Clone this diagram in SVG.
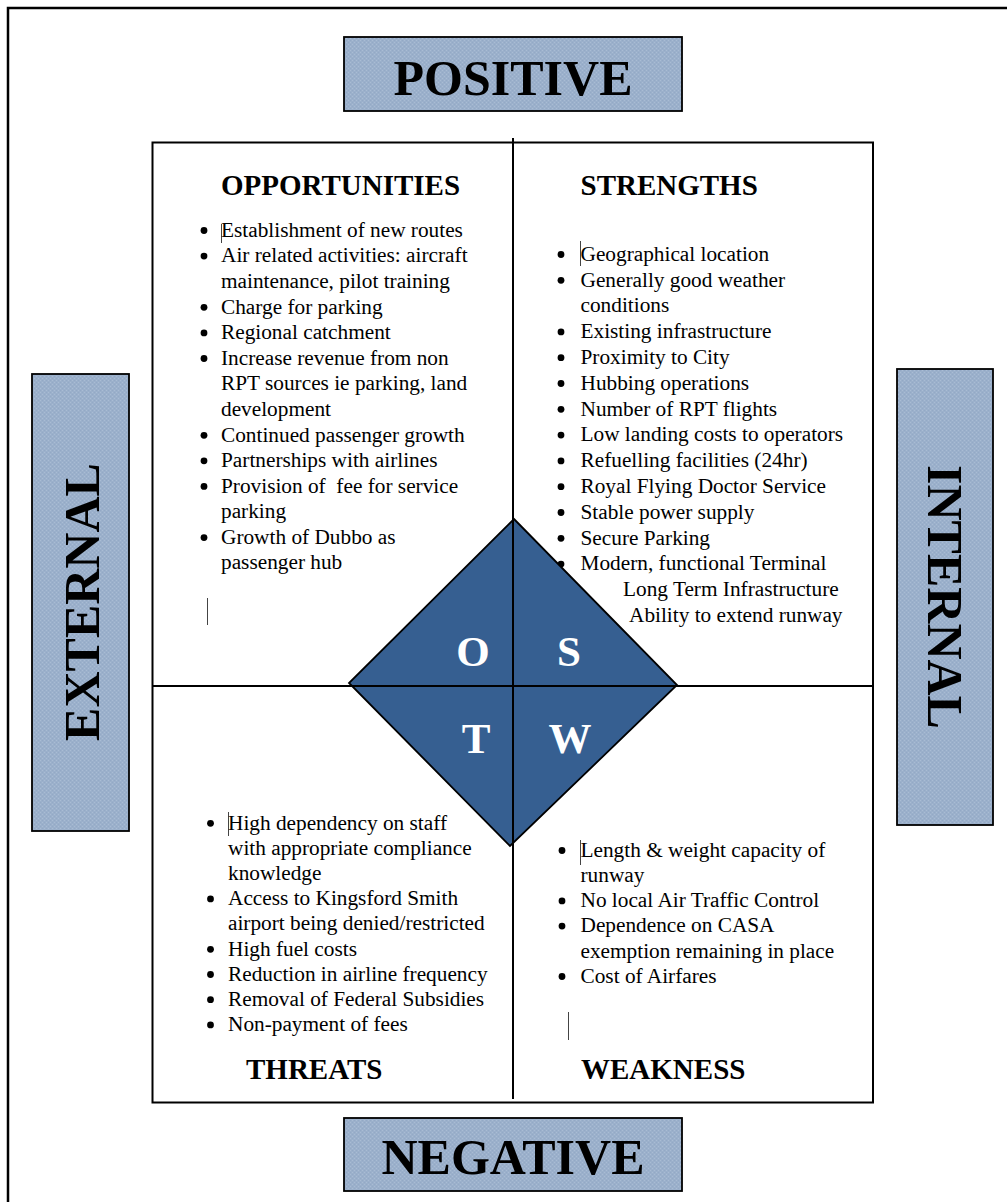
<svg xmlns="http://www.w3.org/2000/svg" width="1007" height="1202" viewBox="0 0 1007 1202">
  <defs>
    <!-- fine woven texture used by the four side labels -->
    <pattern id="weave" width="4" height="4" patternUnits="userSpaceOnUse">
      <rect width="4" height="4" fill="#9BB0CB"/>
      <rect x="0" y="0" width="1" height="1" fill="#A9BCD4"/>
      <rect x="2" y="2" width="1" height="1" fill="#A9BCD4"/>
      <rect x="2" y="0" width="1" height="1" fill="#93A9C6"/>
      <rect x="0" y="2" width="1" height="1" fill="#93A9C6"/>
    </pattern>
  </defs>
  <style>
    .frame { fill: none; stroke: #000; stroke-width: 2.5; }
    .quad { fill: #fff; stroke: #000; stroke-width: 2; }
    .label-box { fill: url(#weave); stroke: #000; stroke-width: 1.8; }
    .label { font-family: "Liberation Serif", "Times New Roman", serif; font-weight: bold; font-size: 50px; fill: #000; }
    .head { font-family: "Liberation Serif", "Times New Roman", serif; font-weight: bold; font-size: 29px; fill: #000; }
    .item { font-family: "Liberation Serif", "Times New Roman", serif; font-size: 21.3px; fill: #000; }
    .bullet { fill: #000; }
    .caret { stroke: #444; stroke-width: 1; fill: none; }
    .axis { stroke: #000; stroke-width: 2; fill: none; }
    .diamond { fill: #365F91; stroke: #000; stroke-width: 1.8; }
    .letter { font-family: "Liberation Serif", "Times New Roman", serif; font-weight: bold; font-size: 43px; fill: #fff; text-anchor: middle; }
  </style>

  <rect width="1007" height="1202" fill="#fff"/>
  <!-- page border -->
  <rect class="frame" x="8" y="8" width="1020" height="1220"/>

  <!-- outer labels -->
  <g id="positive">
    <rect class="label-box" x="344" y="37" width="338" height="74"/>
    <text class="label" x="513" y="95" text-anchor="middle">POSITIVE</text>
  </g>
  <g id="negative">
    <rect class="label-box" x="344" y="1118" width="338" height="73"/>
    <text class="label" x="513" y="1174" text-anchor="middle">NEGATIVE</text>
  </g>
  <g id="external">
    <rect class="label-box" x="32" y="374" width="97" height="457"/>
    <text class="label" transform="translate(99 602) rotate(-90)" text-anchor="middle">EXTERNAL</text>
  </g>
  <g id="internal">
    <rect class="label-box" x="897" y="369" width="96" height="456"/>
    <text class="label" transform="translate(928 597) rotate(90)" text-anchor="middle">INTERNAL</text>
  </g>

  <!-- quadrant frame -->
  <rect class="quad" x="152.5" y="142.5" width="720.5" height="960"/>

  <g id="opportunities">
    <text class="head" x="221" y="195">OPPORTUNITIES</text>
    <line class="caret" x1="221.5" y1="224" x2="221.5" y2="243"/>
    <g class="bullet">
      <circle cx="204" cy="230.5" r="3.4"/>
      <circle cx="204" cy="256.1" r="3.4"/>
      <circle cx="204" cy="307.3" r="3.4"/>
      <circle cx="204" cy="332.9" r="3.4"/>
      <circle cx="204" cy="358.5" r="3.4"/>
      <circle cx="204" cy="435.3" r="3.4"/>
      <circle cx="204" cy="460.8" r="3.4"/>
      <circle cx="204" cy="486.4" r="3.4"/>
      <circle cx="204" cy="537.6" r="3.4"/>
    </g>
    <text class="item">
      <tspan x="221" y="236.7">Establishment of new routes</tspan>
      <tspan x="221" y="262.3">Air related activities: aircraft</tspan>
      <tspan x="221" y="287.9">maintenance, pilot training</tspan>
      <tspan x="221" y="313.5">Charge for parking</tspan>
      <tspan x="221" y="339.1">Regional catchment</tspan>
      <tspan x="221" y="364.7">Increase revenue from non</tspan>
      <tspan x="221" y="390.3">RPT sources ie parking, land</tspan>
      <tspan x="221" y="415.9">development</tspan>
      <tspan x="221" y="441.5">Continued passenger growth</tspan>
      <tspan x="221" y="467">Partnerships with airlines</tspan>
      <tspan x="221" y="492.6" xml:space="preserve">Provision of  fee for service</tspan>
      <tspan x="221" y="518.2">parking</tspan>
      <tspan x="221" y="543.8">Growth of Dubbo as</tspan>
      <tspan x="221" y="569.4">passenger hub</tspan>
    </text>
    <line class="caret" x1="207.5" y1="598" x2="207.5" y2="625"/>
  </g>

  <g id="strengths">
    <text class="head" x="580.5" y="195">STRENGTHS</text>
    <line class="caret" x1="580.5" y1="241" x2="580.5" y2="266"/>
    <g class="bullet">
      <circle cx="561" cy="254.5" r="3.4"/>
      <circle cx="561" cy="280.3" r="3.4"/>
      <circle cx="561" cy="331.9" r="3.4"/>
      <circle cx="561" cy="357.7" r="3.4"/>
      <circle cx="561" cy="383.5" r="3.4"/>
      <circle cx="561" cy="409.3" r="3.4"/>
      <circle cx="561" cy="435.1" r="3.4"/>
      <circle cx="561" cy="460.9" r="3.4"/>
      <circle cx="561" cy="486.7" r="3.4"/>
      <circle cx="561" cy="512.5" r="3.4"/>
      <circle cx="561" cy="538.3" r="3.4"/>
      <circle cx="561" cy="564.1" r="3.4"/>
    </g>
    <text class="item">
      <tspan x="580.5" y="260.7">Geographical location</tspan>
      <tspan x="580.5" y="286.5">Generally good weather</tspan>
      <tspan x="580.5" y="312.3">conditions</tspan>
      <tspan x="580.5" y="338.1">Existing infrastructure</tspan>
      <tspan x="580.5" y="363.9">Proximity to City</tspan>
      <tspan x="580.5" y="389.7">Hubbing operations</tspan>
      <tspan x="580.5" y="415.5">Number of RPT flights</tspan>
      <tspan x="580.5" y="441.3">Low landing costs to operators</tspan>
      <tspan x="580.5" y="467.1">Refuelling facilities (24hr)</tspan>
      <tspan x="580.5" y="492.9">Royal Flying Doctor Service</tspan>
      <tspan x="580.5" y="518.7">Stable power supply</tspan>
      <tspan x="580.5" y="544.5">Secure Parking</tspan>
      <tspan x="580.5" y="570.3">Modern, functional Terminal</tspan>
      <tspan x="623" y="596.1">Long Term Infrastructure</tspan>
      <tspan x="629" y="621.9">Ability to extend runway</tspan>
    </text>
  </g>

  <g id="threats">
    <line class="caret" x1="228.5" y1="812" x2="228.5" y2="836"/>
    <g class="bullet">
      <circle cx="210.5" cy="823.3" r="3.4"/>
      <circle cx="210.5" cy="898.9" r="3.4"/>
      <circle cx="210.5" cy="949.3" r="3.4"/>
      <circle cx="210.5" cy="974.5" r="3.4"/>
      <circle cx="210.5" cy="999.7" r="3.4"/>
      <circle cx="210.5" cy="1024.9" r="3.4"/>
    </g>
    <text class="item">
      <tspan x="228" y="829.5">High dependency on staff</tspan>
      <tspan x="228" y="854.7">with appropriate compliance</tspan>
      <tspan x="228" y="879.9">knowledge</tspan>
      <tspan x="228" y="905.1">Access to Kingsford Smith</tspan>
      <tspan x="228" y="930.3">airport being denied/restricted</tspan>
      <tspan x="228" y="955.5">High fuel costs</tspan>
      <tspan x="228" y="980.7">Reduction in airline frequency</tspan>
      <tspan x="228" y="1005.9">Removal of Federal Subsidies</tspan>
      <tspan x="228" y="1031.1">Non-payment of fees</tspan>
    </text>
    <text class="head" x="246" y="1079">THREATS</text>
  </g>

  <g id="weakness">
    <line class="caret" x1="580.5" y1="840" x2="580.5" y2="865"/>
    <g class="bullet">
      <circle cx="562" cy="850.5" r="3.4"/>
      <circle cx="562" cy="900.9" r="3.4"/>
      <circle cx="562" cy="926.1" r="3.4"/>
      <circle cx="562" cy="976.5" r="3.4"/>
    </g>
    <text class="item">
      <tspan x="580.5" y="856.7">Length &amp; weight capacity of</tspan>
      <tspan x="580.5" y="881.9">runway</tspan>
      <tspan x="580.5" y="907.1">No local Air Traffic Control</tspan>
      <tspan x="580.5" y="932.3">Dependence on CASA</tspan>
      <tspan x="580.5" y="957.5">exemption remaining in place</tspan>
      <tspan x="580.5" y="982.7">Cost of Airfares</tspan>
    </text>
    <line class="caret" x1="568.5" y1="1012" x2="568.5" y2="1040"/>
    <text class="head" x="581" y="1079">WEAKNESS</text>
  </g>

  <!-- central SWOT diamond -->
  <g id="swot-diamond">
    <polygon class="diamond" points="514,519 677,685 510,846 349,683"/>
  </g>

  <!-- dividing axes between the quadrants -->
  <g id="connectors">
    <line class="axis" x1="513" y1="138" x2="513" y2="1099"/>
    <line class="axis" x1="152.5" y1="686" x2="873" y2="686"/>
  </g>

  <g id="swot-letters">
    <text class="letter" x="473" y="666">O</text>
    <text class="letter" x="569" y="666">S</text>
    <text class="letter" x="476" y="753">T</text>
    <text class="letter" x="570" y="753">W</text>
  </g>
</svg>
